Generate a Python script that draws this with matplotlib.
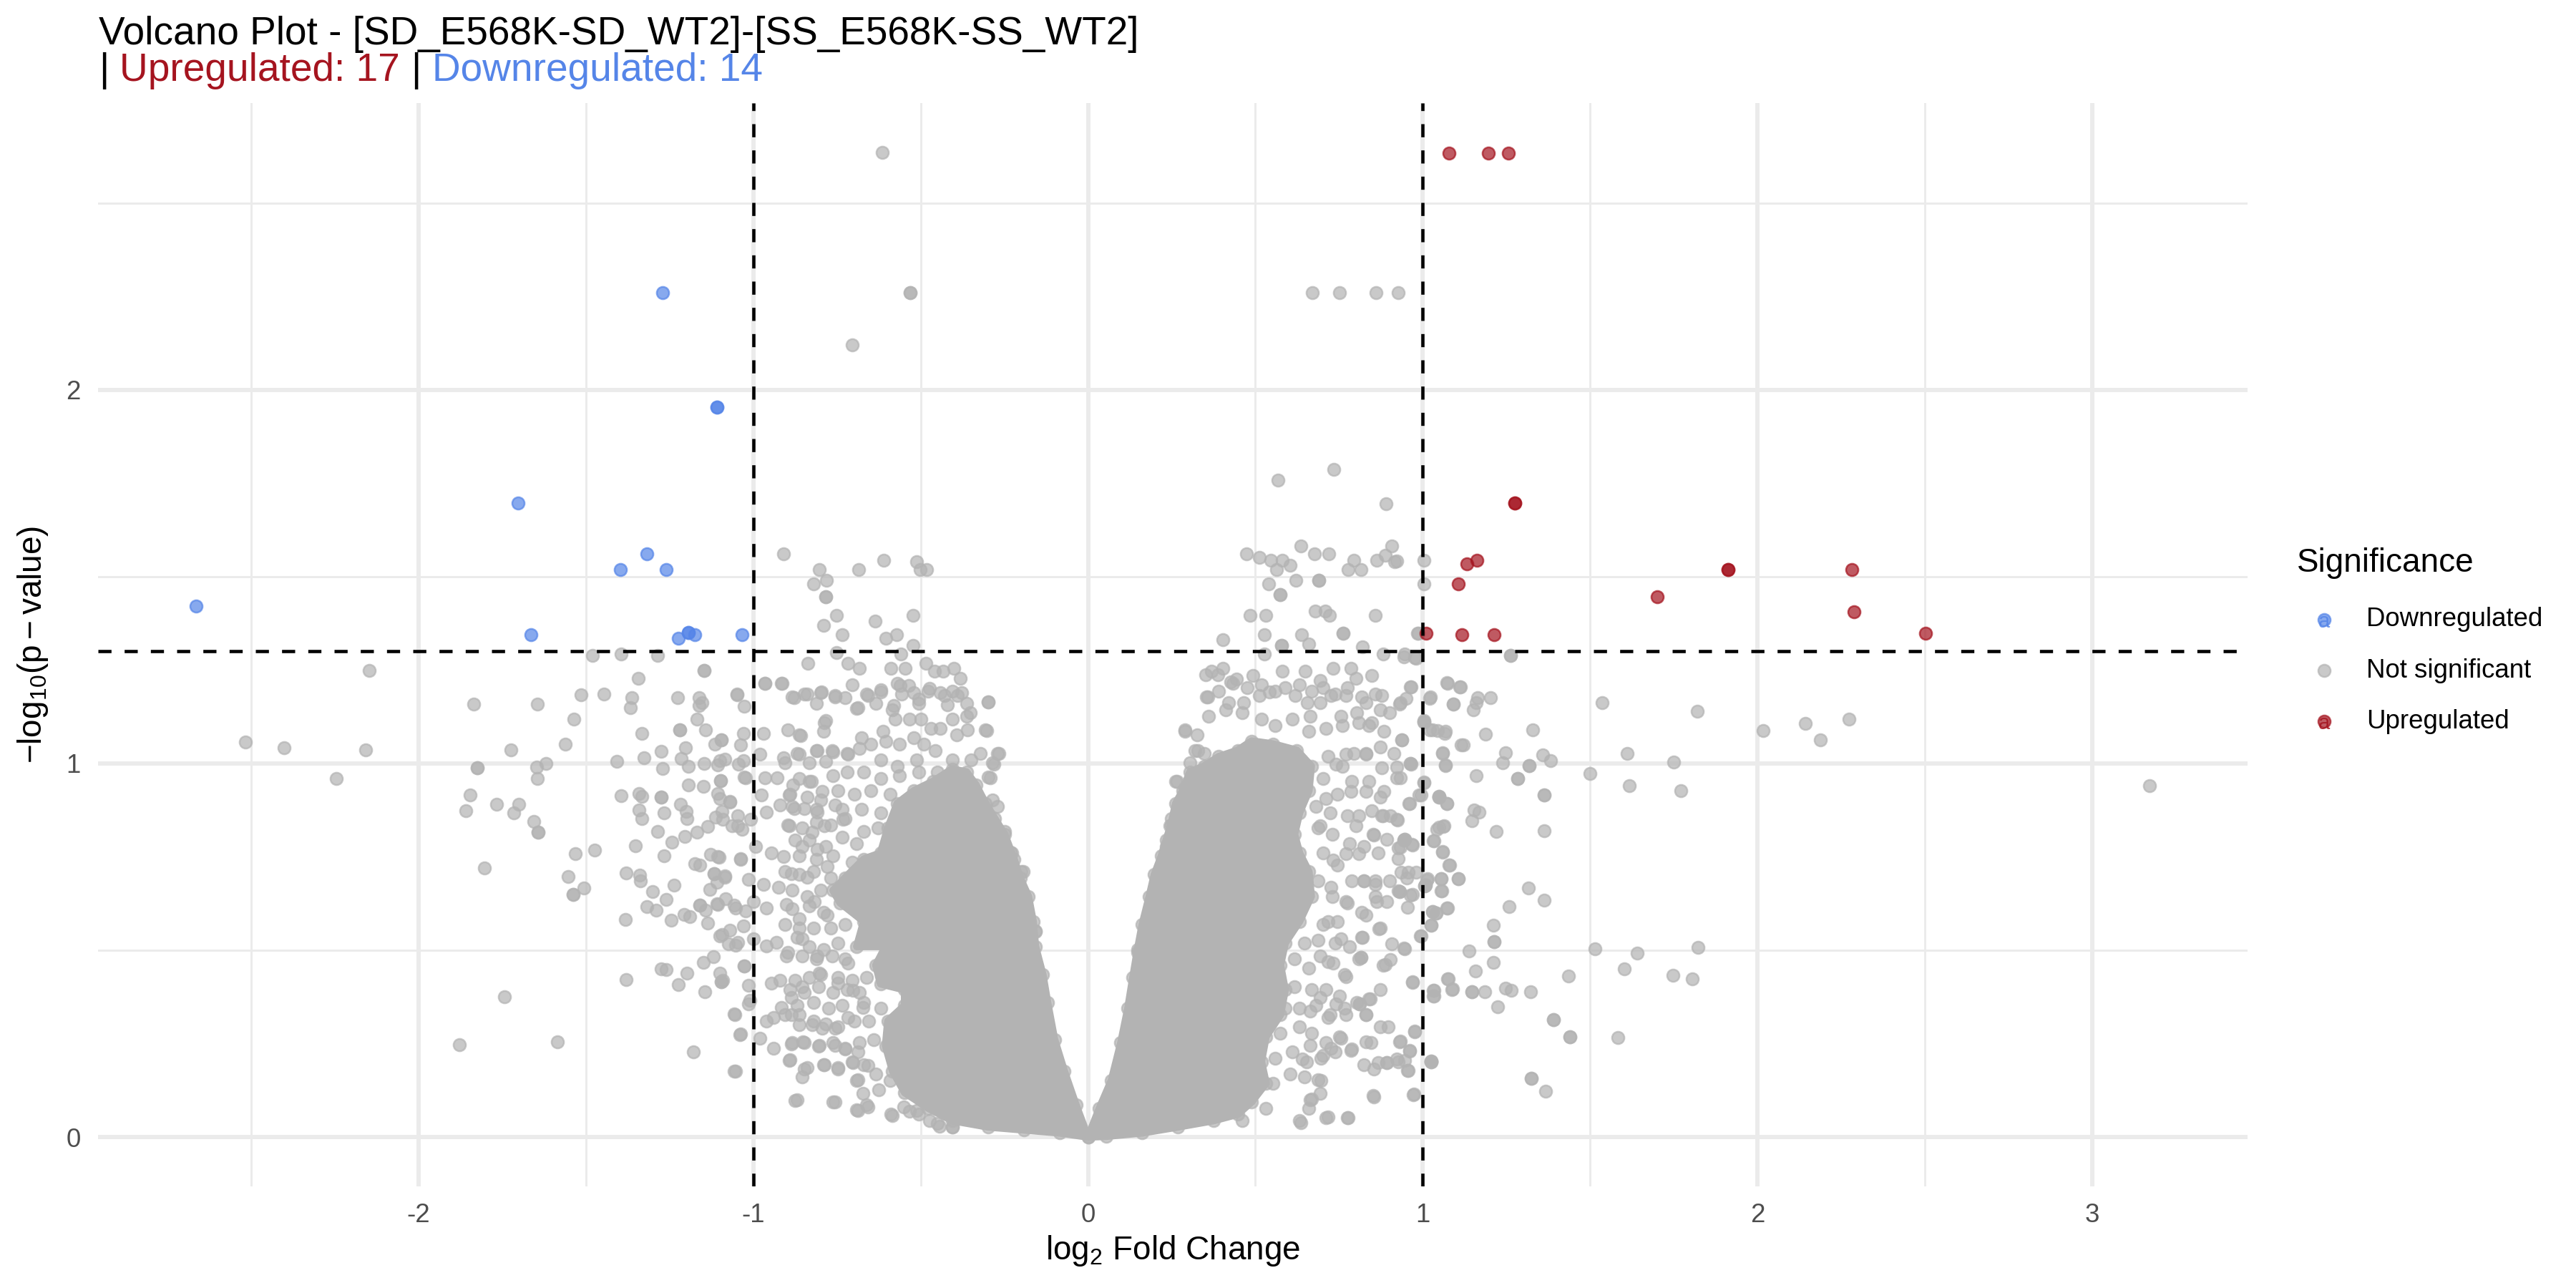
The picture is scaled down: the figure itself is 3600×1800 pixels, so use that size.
import matplotlib
matplotlib.use("Agg")
import matplotlib.pyplot as plt
from matplotlib.patches import Polygon
import numpy as np

plt.rcParams['font.family'] = ['Liberation Sans', 'DejaVu Sans']
plt.rcParams['mathtext.fontset'] = 'custom'
plt.rcParams['mathtext.rm'] = 'Liberation Sans'
plt.rcParams['mathtext.it'] = 'Liberation Sans:italic'
plt.rcParams['axes.unicode_minus'] = False

UP_COL = '#A5141F'
DOWN_COL = '#5585E8'
NS_COL = '#B3B3B3'
GRID_COL = '#EBEBEB'
TXT_GREY = '#4D4D4D'

TITLE = "Volcano Plot - [SD_E568K-SD_WT2]-[SS_E568K-SS_WT2]"
N_UP = 17
N_DOWN = 14
P_CUT = 0.05
FC_CUT = 1.0

# significant genes (log2FC, -log10 p)
down_x = [-2.665, -1.703, -1.272, -1.108, -1.108, -1.664, -1.398, -1.319, -1.260,
          -1.223, -1.195, -1.195, -1.174, -1.033]
down_y = [1.422, 1.696, 2.259, 1.954, 1.954, 1.344, 1.519, 1.561, 1.519,
          1.334, 1.350, 1.350, 1.344, 1.344]

up_x = [1.079, 1.197, 1.255, 1.275, 1.275, 1.133, 1.161, 1.107, 1.913, 1.913,
        2.283, 1.700, 2.288, 2.502, 1.010, 1.118, 1.213]
up_y = [2.633, 2.633, 2.633, 1.696, 1.696, 1.535, 1.544, 1.480, 1.519, 1.519,
        1.519, 1.446, 1.406, 1.349, 1.349, 1.345, 1.345]

# not significant, sparse points left of -1
ns_far_left = [
    (-2.518, 1.057), (-2.402, 1.041), (-2.159, 1.036), (-2.245, 0.960), (-2.148, 1.249),
    (-1.835, 1.158), (-1.646, 1.158), (-1.515, 1.184), (-1.446, 1.186), (-1.362, 1.176),
    (-1.367, 1.149), (-1.226, 1.175), (-1.161, 1.176), (-1.153, 1.163), (-1.161, 1.154),
    (-1.049, 1.184), (-1.537, 1.118), (-1.333, 1.081), (-1.220, 1.089), (-1.220, 1.089),
    (-1.142, 1.089), (-1.168, 1.118), (-1.724, 1.036), (-1.561, 1.052), (-1.408, 1.006),
    (-1.327, 1.015), (-1.275, 1.033), (-1.202, 1.041), (-1.115, 1.052), (-1.095, 1.062),
    (-1.824, 0.988), (-1.824, 0.988), (-1.648, 0.990), (-1.619, 0.999), (-1.646, 0.959),
    (-1.272, 0.987), (-1.215, 1.014), (-1.193, 0.993), (-1.146, 0.999), (-1.107, 0.995),
    (-1.085, 1.011), (-1.045, 0.997), (-1.037, 1.050), (-1.027, 0.963), (-1.846, 0.915),
    (-1.858, 0.873), (-1.767, 0.890), (-1.700, 0.890), (-1.716, 0.868), (-1.656, 0.845),
    (-1.642, 0.816), (-1.642, 0.816), (-1.396, 0.914), (-1.342, 0.919), (-1.333, 0.911),
    (-1.275, 0.909), (-1.275, 0.909), (-1.217, 0.890), (-1.195, 0.943), (-1.150, 0.939),
    (-1.098, 0.953), (-1.098, 0.953), (-1.107, 0.919), (-1.070, 0.899), (-1.342, 0.875),
    (-1.333, 0.852), (-1.266, 0.868), (-1.201, 0.872), (-1.199, 0.852), (-1.287, 0.818),
    (-1.244, 0.790), (-1.205, 0.804), (-1.168, 0.816), (-1.137, 0.832), (-1.113, 0.856),
    (-1.094, 0.872), (-1.047, 0.860), (-1.064, 0.834), (-1.033, 0.824), (-1.352, 0.780),
    (-1.266, 0.752), (-1.474, 0.768), (-1.531, 0.759), (-1.803, 0.720), (-1.554, 0.698),
    (-1.506, 0.666), (-1.538, 0.649), (-1.538, 0.649), (-1.379, 0.707), (-1.339, 0.701),
    (-1.338, 0.685), (-1.237, 0.675), (-1.300, 0.657), (-1.261, 0.635), (-1.319, 0.617),
    (-1.291, 0.607), (-1.382, 0.583), (-1.245, 0.580), (-1.207, 0.596), (-1.189, 0.589),
    (-1.174, 0.732), (-1.159, 0.728), (-1.127, 0.756), (-1.103, 0.748), (-1.039, 0.743),
    (-1.118, 0.705), (-1.118, 0.705), (-1.085, 0.699), (-1.109, 0.682), (-1.129, 0.662),
    (-1.159, 0.621), (-1.159, 0.621), (-1.143, 0.607), (-1.109, 0.625), (-1.082, 0.637),
    (-1.058, 0.621), (-1.137, 0.572), (-1.094, 0.542), (-1.070, 0.554), (-1.074, 0.518),
    (-1.052, 0.514), (-1.023, 0.605), (-1.029, 0.565), (-1.150, 0.468), (-1.119, 0.482),
    (-1.276, 0.450), (-1.260, 0.448), (-1.381, 0.421), (-1.199, 0.438), (-1.223, 0.408),
    (-1.101, 0.438), (-1.095, 0.416), (-1.095, 0.416), (-1.144, 0.388), (-1.027, 0.457),
    (-1.015, 0.406), (-1.015, 0.357), (-1.057, 0.330), (-1.039, 0.275), (-1.178, 0.228),
    (-1.057, 0.176), (-1.744, 0.375), (-1.879, 0.247), (-1.585, 0.255), (-1.480, 1.288),
    (-1.395, 1.293), (-1.287, 1.288), (-1.146, 1.249), (-1.146, 1.249), (-1.344, 1.227),
]

# not significant, between -1.1 and the left core
ns_left = [
    (-0.615, 2.635), (-0.531, 2.260), (-0.531, 2.260), (-0.704, 2.121), (-0.910, 1.561),
    (-0.802, 1.519), (-0.819, 1.480), (-0.781, 1.490), (-0.784, 1.446), (-0.784, 1.446),
    (-0.685, 1.519), (-0.611, 1.543), (-0.512, 1.539), (-0.501, 1.519), (-0.483, 1.519),
    (-0.751, 1.396), (-0.790, 1.369), (-0.735, 1.345), (-0.636, 1.380), (-0.605, 1.334),
    (-0.571, 1.345), (-0.523, 1.396), (-0.523, 1.315), (-0.752, 1.297), (-0.838, 1.268),
    (-0.718, 1.268), (-0.684, 1.255), (-0.588, 1.255), (-0.546, 1.255), (-0.559, 1.292),
    (-0.485, 1.268), (-0.459, 1.246), (-0.433, 1.246), (-0.400, 1.255), (-0.381, 1.227),
    (-0.965, 1.215), (-0.914, 1.215), (-0.965, 1.214), (-0.917, 1.214), (-0.299, 1.165),
    (-0.303, 1.088), (-0.266, 1.027), (-0.281, 0.998), (-0.291, 0.961), (-0.194, 0.710),
    (-0.157, 0.550), (-0.231, 0.763), (-1.048, 1.185), (-1.027, 1.152), (-0.878, 1.176),
    (-0.848, 1.185), (-0.796, 1.191), (-0.756, 1.182), (-0.725, 1.176), (-0.687, 1.149),
    (-0.657, 1.182), (-0.619, 1.191), (-0.581, 1.154), (-0.562, 1.209), (-0.535, 1.209),
    (-0.505, 1.172), (-0.474, 1.200), (-0.428, 1.182), (-0.390, 1.182), (-0.352, 1.136),
    (-0.360, 1.090), (-1.095, 1.062), (-1.030, 1.081), (-0.970, 1.081), (-0.897, 1.090),
    (-0.859, 1.075), (-0.787, 1.108), (-1.099, 1.007), (-1.030, 1.007), (-0.981, 1.025),
    (-0.909, 1.016), (-0.863, 1.025), (-0.809, 1.035), (-0.764, 1.035), (-0.718, 1.025),
    (-1.023, 0.961), (-0.966, 0.961), (-0.928, 0.961), (-0.882, 0.943), (-0.832, 0.952),
    (-0.794, 0.925), (-1.099, 0.906), (-1.069, 0.897), (-0.977, 0.915), (-0.893, 0.915),
    (-0.847, 0.879), (-0.809, 0.870), (-1.092, 0.851), (-1.046, 0.833), (-1.008, 0.851),
    (-0.962, 0.870), (-0.920, 0.888), (-0.878, 0.879), (-0.893, 0.833), (-0.825, 0.815),
    (-0.787, 0.833), (-0.756, 0.888), (-0.733, 0.851), (-1.107, 0.750), (-1.038, 0.745),
    (-0.992, 0.778), (-0.947, 0.760), (-0.909, 0.750), (-0.855, 0.778), (-0.809, 0.769),
    (-1.084, 0.695), (-1.015, 0.690), (-0.970, 0.677), (-0.924, 0.668), (-0.886, 0.704),
    (-0.840, 0.695), (-0.779, 0.723), (-1.107, 0.622), (-1.053, 0.613), (-1.000, 0.631),
    (-0.962, 0.613), (-0.901, 0.622), (-0.863, 0.585), (-0.817, 0.631), (-0.779, 0.594),
    (-1.099, 0.539), (-1.046, 0.521), (-1.000, 0.530), (-0.962, 0.512), (-0.932, 0.521),
    (-0.901, 0.484), (-0.855, 0.530), (-0.809, 0.484), (-0.764, 0.484), (-0.718, 0.466),
    (-1.092, 0.420), (-1.027, 0.457), (-1.011, 0.365), (-0.947, 0.411), (-0.920, 0.420),
    (-0.886, 0.374), (-0.855, 0.402), (-0.802, 0.438), (-0.748, 0.411), (-0.703, 0.393),
    (-1.055, 0.328), (-1.040, 0.273), (-0.981, 0.264), (-0.962, 0.310), (-0.939, 0.319),
    (-0.916, 0.347), (-0.886, 0.328), (-0.863, 0.301), (-0.825, 0.301), (-0.794, 0.292),
    (-0.756, 0.292), (-0.718, 0.319), (-0.672, 0.347), (-0.939, 0.237), (-0.886, 0.249),
    (-0.851, 0.255), (-0.802, 0.246), (-0.756, 0.246), (-0.725, 0.237), (-0.687, 0.227),
    (-1.053, 0.176), (-0.893, 0.205), (-0.847, 0.182), (-0.787, 0.194), (-0.748, 0.182),
    (-0.703, 0.200), (-0.687, 0.154), (-0.657, 0.191), (-0.870, 0.099), (-0.756, 0.093),
    (-0.687, 0.071), (-0.657, 0.080), (-0.672, 0.117), (-0.626, 0.126), (-0.588, 0.062),
    (-0.550, 0.080), (-0.512, 0.071), (-0.474, 0.044), (-0.443, 0.029), (-0.405, 0.026),
]

# not significant, crowded fringe round the left core
ns_left_fringe = [
    (-0.883, 1.177), (-0.840, 1.185), (-0.798, 1.189), (-0.755, 1.177), (-0.705, 1.210),
    (-0.662, 1.185), (-0.620, 1.197), (-0.570, 1.214), (-0.556, 1.185), (-0.520, 1.189),
    (-0.477, 1.193), (-0.442, 1.189), (-0.406, 1.193), (-0.377, 1.189), (-0.299, 1.164),
    (-0.812, 1.160), (-0.634, 1.160), (-0.691, 1.147), (-0.584, 1.143), (-0.506, 1.160),
    (-0.420, 1.156), (-0.363, 1.160), (-0.783, 1.114), (-0.862, 1.077), (-0.791, 1.085),
    (-0.677, 1.068), (-0.613, 1.085), (-0.577, 1.118), (-0.534, 1.118), (-0.499, 1.118),
    (-0.470, 1.093), (-0.442, 1.093), (-0.406, 1.118), (-0.363, 1.127), (-0.306, 1.089),
    (-0.392, 1.077), (-0.520, 1.068), (-0.869, 1.027), (-0.812, 1.035), (-0.762, 1.031),
    (-0.719, 1.027), (-0.684, 1.039), (-0.648, 1.052), (-0.605, 1.060), (-0.563, 1.052),
    (-0.491, 1.052), (-0.456, 1.035), (-0.406, 1.010), (-0.349, 1.010), (-0.321, 1.027),
    (-0.271, 1.027), (-0.285, 1.002), (-0.905, 1.002), (-0.833, 1.002), (-0.783, 1.006),
    (-0.620, 1.010), (-0.570, 0.993), (-0.513, 1.010), (-0.862, 0.960), (-0.826, 0.952),
    (-0.762, 0.968), (-0.719, 0.977), (-0.670, 0.977), (-0.620, 0.960), (-0.563, 0.968),
    (-0.506, 0.977), (-0.449, 0.977), (-0.392, 0.968), (-0.299, 0.964), (-0.890, 0.918),
    (-0.840, 0.910), (-0.798, 0.902), (-0.748, 0.927), (-0.698, 0.918), (-0.648, 0.927),
    (-0.591, 0.918), (-0.883, 0.885), (-0.812, 0.877), (-0.734, 0.877), (-0.677, 0.877),
    (-0.620, 0.868), (-0.285, 0.902), (-0.271, 0.885), (-0.897, 0.835), (-0.855, 0.827),
    (-0.812, 0.843), (-0.769, 0.835), (-0.726, 0.852), (-0.670, 0.818), (-0.627, 0.827),
    (-0.876, 0.794), (-0.833, 0.794), (-0.783, 0.777), (-0.734, 0.802), (-0.691, 0.785),
    (-0.862, 0.752), (-0.812, 0.744), (-0.762, 0.752), (-0.705, 0.735), (-0.249, 0.818),
    (-0.228, 0.760), (-0.905, 0.710), (-0.862, 0.702), (-0.819, 0.710), (-0.769, 0.694),
    (-0.883, 0.660), (-0.840, 0.644), (-0.798, 0.660), (-0.883, 0.610), (-0.833, 0.619),
    (-0.791, 0.602), (-0.199, 0.710), (-0.192, 0.644), (-0.905, 0.569), (-0.862, 0.560),
    (-0.819, 0.560), (-0.769, 0.560), (-0.726, 0.569), (-0.869, 0.535), (-0.833, 0.510),
    (-0.791, 0.502), (-0.748, 0.519), (-0.897, 0.494), (-0.855, 0.485), (-0.812, 0.477),
    (-0.726, 0.477), (-0.157, 0.552), (-0.876, 0.419), (-0.833, 0.427), (-0.798, 0.435),
    (-0.748, 0.427), (-0.705, 0.419), (-0.662, 0.427), (-0.890, 0.394), (-0.848, 0.386),
    (-0.805, 0.402), (-0.762, 0.386), (-0.719, 0.394), (-0.684, 0.386), (-0.869, 0.352),
    (-0.819, 0.361), (-0.776, 0.344), (-0.734, 0.352), (-0.670, 0.361), (-0.620, 0.344),
    (-0.905, 0.327), (-0.862, 0.327), (-0.819, 0.311), (-0.783, 0.302), (-0.748, 0.294),
    (-0.698, 0.311), (-0.655, 0.311), (-0.883, 0.252), (-0.848, 0.252), (-0.805, 0.244),
    (-0.762, 0.252), (-0.726, 0.236), (-0.684, 0.252), (-0.641, 0.261), (-0.890, 0.206),
    (-0.840, 0.186), (-0.791, 0.194), (-0.748, 0.186), (-0.705, 0.202), (-0.670, 0.194),
    (-0.634, 0.169), (-0.855, 0.161), (-0.691, 0.152), (-0.591, 0.152), (-0.876, 0.098),
    (-0.762, 0.094), (-0.691, 0.073), (-0.662, 0.086), (-0.584, 0.057), (-0.534, 0.069),
    (-0.506, 0.061), (-0.449, 0.036), (-0.406, 0.027),
]

# not significant, right of the right core
ns_right = [
    (0.670, 2.260), (0.751, 2.260), (0.861, 2.260), (0.926, 2.260), (0.567, 1.758),
    (0.734, 1.787), (0.891, 1.695), (0.473, 1.561), (0.513, 1.552), (0.546, 1.543),
    (0.563, 1.519), (0.580, 1.543), (0.603, 1.530), (0.635, 1.581), (0.676, 1.561),
    (0.719, 1.561), (0.539, 1.480), (0.575, 1.451), (0.575, 1.451), (0.622, 1.490),
    (0.689, 1.490), (0.689, 1.490), (0.777, 1.519), (0.795, 1.543), (0.816, 1.519),
    (0.863, 1.543), (0.889, 1.558), (0.908, 1.581), (0.917, 1.539), (1.003, 1.543),
    (1.003, 1.480), (0.922, 1.541), (0.484, 1.396), (0.532, 1.396), (0.528, 1.345),
    (0.578, 1.315), (0.578, 1.315), (0.638, 1.345), (0.660, 1.319), (0.679, 1.407),
    (0.709, 1.407), (0.721, 1.396), (0.763, 1.348), (0.763, 1.348), (0.859, 1.396),
    (0.820, 1.312), (0.984, 1.348), (0.987, 1.349), (0.402, 1.332), (0.368, 1.246),
    (0.404, 1.255), (0.443, 1.226), (0.492, 1.235), (0.526, 1.292), (0.580, 1.246),
    (0.648, 1.246), (0.694, 1.222), (0.732, 1.255), (0.786, 1.255), (0.801, 1.227),
    (0.847, 1.235), (0.881, 1.292), (0.946, 1.292), (0.980, 1.282), (0.965, 1.204),
    (0.934, 1.163), (1.022, 1.178), (1.075, 1.214), (1.091, 1.159), (1.110, 1.204),
    (1.003, 1.114), (1.030, 1.090), (1.068, 1.086), (0.937, 1.062), (1.060, 1.027),
    (1.068, 0.994), (1.114, 1.049), (0.965, 0.998), (1.003, 0.948), (0.988, 0.915),
    (1.049, 0.912), (1.049, 0.912), (1.072, 0.893), (0.959, 0.893), (0.923, 0.961),
    (0.877, 0.989), (0.831, 1.025), (0.885, 0.925), (0.847, 0.873), (0.877, 0.860),
    (0.904, 0.860), (0.923, 0.851), (0.831, 0.925), (0.801, 0.833), (0.854, 0.809),
    (0.892, 0.796), (0.946, 0.796), (0.946, 0.796), (0.969, 0.782), (0.927, 0.774),
    (1.033, 0.793), (1.049, 0.829), (1.064, 0.833), (1.060, 0.763), (1.079, 0.728),
    (1.106, 0.692), (1.056, 0.692), (1.056, 0.659), (1.005, 0.673), (1.005, 0.673),
    (1.014, 0.692), (0.957, 0.708), (0.969, 0.649), (0.927, 0.659), (0.900, 0.686),
    (0.858, 0.686), (0.824, 0.686), (0.862, 0.631), (0.892, 0.631), (0.831, 0.594),
    (0.870, 0.558), (1.030, 0.603), (1.030, 0.603), (1.026, 0.567), (1.075, 0.613),
    (0.995, 0.539), (0.946, 0.503), (0.908, 0.517), (0.889, 0.462), (0.904, 0.475),
    (0.816, 0.480), (0.816, 0.480), (0.820, 0.534), (0.969, 0.414), (1.033, 0.392),
    (1.033, 0.378), (1.075, 0.424), (1.089, 0.396), (0.843, 0.370), (0.812, 0.356),
    (0.812, 0.356), (0.831, 0.328), (0.896, 0.295), (0.976, 0.282), (0.931, 0.255),
    (0.961, 0.231), (0.946, 0.205), (0.923, 0.209), (0.893, 0.200), (0.893, 0.200),
    (0.866, 0.200), (0.855, 0.182), (1.026, 0.203), (1.026, 0.203), (0.956, 0.178),
    (0.973, 0.114), (0.855, 0.108), (0.778, 0.051), (0.717, 0.053), (0.637, 0.038),
    (0.831, 0.255), (0.786, 0.231), (0.755, 0.264), (0.725, 0.237), (0.702, 0.218),
    (0.664, 0.246), (0.641, 0.209), (0.687, 0.154), (0.664, 0.099), (0.694, 0.117),
    (0.770, 0.328), (0.740, 0.356), (0.717, 0.319), (0.694, 0.374), (0.664, 0.338),
    (0.770, 0.429), (0.732, 0.466), (0.694, 0.484), (0.755, 0.530), (0.717, 0.576),
    (0.770, 0.631), (0.725, 0.668), (0.770, 0.759), (0.732, 0.741), (0.809, 0.759),
    (0.786, 0.925), (0.740, 0.998), (0.770, 1.025), (0.809, 1.108), (0.755, 1.126),
    (0.725, 1.181), (0.694, 1.163), (0.664, 1.126), (0.770, 1.181), (0.831, 1.163),
    (0.877, 1.181), (0.900, 1.136), (0.847, 1.108), (0.885, 1.086), (0.710, 0.906),
    (0.694, 0.833), (0.290, 1.086), (0.328, 1.035), (0.267, 0.952), (0.298, 0.930),
    (0.298, 0.930), (0.244, 0.833), (0.237, 0.778), (0.351, 1.237), (0.389, 1.237),
    (0.427, 1.218), (0.359, 1.178), (0.420, 1.163), (0.465, 1.163), (0.511, 1.181),
    (0.542, 1.191), (0.618, 1.181), (0.656, 1.163),
]

# not significant, crowded fringe round the right core
ns_right_fringe = [
    (0.354, 1.177), (0.390, 1.193), (0.432, 1.214), (0.475, 1.202), (0.518, 1.210),
    (0.560, 1.193), (0.589, 1.202), (0.632, 1.210), (0.667, 1.193), (0.703, 1.202),
    (0.738, 1.185), (0.774, 1.202), (0.817, 1.177), (0.859, 1.185), (0.290, 1.089),
    (0.326, 1.077), (0.361, 1.127), (0.411, 1.143), (0.461, 1.135), (0.518, 1.118),
    (0.560, 1.102), (0.610, 1.118), (0.660, 1.085), (0.710, 1.093), (0.760, 1.102),
    (0.802, 1.135), (0.838, 1.102), (0.873, 1.143), (0.319, 1.035), (0.304, 1.002),
    (0.262, 0.952), (0.290, 0.935), (0.347, 1.027), (0.717, 1.018), (0.760, 0.993),
    (0.795, 1.027), (0.831, 1.027), (0.873, 1.043), (0.703, 0.960), (0.745, 0.918),
    (0.788, 0.952), (0.838, 0.952), (0.873, 0.910), (0.276, 0.893), (0.248, 0.852),
    (0.233, 0.777), (0.681, 0.885), (0.724, 0.868), (0.774, 0.860), (0.809, 0.860),
    (0.852, 0.810), (0.881, 0.860), (0.688, 0.827), (0.731, 0.810), (0.781, 0.785),
    (0.824, 0.777), (0.866, 0.760), (0.212, 0.702), (0.198, 0.652), (0.703, 0.760),
    (0.745, 0.727), (0.788, 0.685), (0.824, 0.685), (0.859, 0.677), (0.688, 0.685),
    (0.731, 0.644), (0.774, 0.627), (0.817, 0.602), (0.859, 0.644), (0.183, 0.577),
    (0.703, 0.569), (0.745, 0.577), (0.817, 0.535), (0.873, 0.560), (0.646, 0.519),
    (0.688, 0.527), (0.738, 0.519), (0.781, 0.510), (0.809, 0.477), (0.148, 0.494),
    (0.617, 0.477), (0.660, 0.452), (0.717, 0.469), (0.767, 0.435), (0.881, 0.460),
    (0.141, 0.402), (0.617, 0.402), (0.667, 0.394), (0.710, 0.394), (0.752, 0.377),
    (0.838, 0.369), (0.873, 0.394), (0.589, 0.344), (0.632, 0.344), (0.681, 0.352),
    (0.724, 0.327), (0.767, 0.344), (0.802, 0.361), (0.831, 0.327), (0.575, 0.277),
    (0.632, 0.294), (0.667, 0.277), (0.710, 0.252), (0.752, 0.269), (0.788, 0.236),
    (0.845, 0.252), (0.873, 0.294), (0.560, 0.211), (0.610, 0.227), (0.653, 0.202),
    (0.696, 0.211), (0.738, 0.227), (0.824, 0.194), (0.553, 0.144), (0.603, 0.169),
    (0.646, 0.161), (0.696, 0.152), (0.667, 0.102), (0.660, 0.077), (0.632, 0.044),
    (0.710, 0.052), (0.774, 0.052), (0.852, 0.111), (0.461, 0.044), (0.532, 0.077),
]

# not significant, far right (beyond 0.9)
ns_far_right = [
    (0.943, 1.286), (0.976, 1.283), (1.262, 1.289), (1.262, 1.289), (1.073, 1.216),
    (1.113, 1.204), (0.963, 1.204), (0.950, 1.174), (0.930, 1.158), (1.021, 1.174),
    (1.091, 1.159), (1.164, 1.176), (1.203, 1.176), (1.160, 1.163), (1.152, 1.144),
    (1.535, 1.163), (1.821, 1.140), (2.018, 1.087), (2.143, 1.107), (2.187, 1.063),
    (2.273, 1.118), (1.004, 1.110), (1.004, 1.110), (1.021, 1.090), (1.045, 1.087),
    (1.065, 1.080), (0.937, 1.063), (1.122, 1.049), (1.187, 1.078), (1.328, 1.089),
    (0.914, 1.026), (1.060, 1.028), (1.247, 1.028), (1.359, 1.023), (1.381, 1.008),
    (1.611, 1.027), (1.750, 1.003), (0.963, 1.000), (0.963, 1.000), (1.067, 0.996),
    (1.239, 1.002), (1.318, 0.994), (1.318, 0.994), (0.922, 0.991), (1.160, 0.968),
    (1.283, 0.959), (1.283, 0.959), (0.934, 0.961), (1.500, 0.973), (1.617, 0.941),
    (1.772, 0.927), (3.172, 0.941), (1.004, 0.950), (0.996, 0.915), (1.049, 0.909),
    (1.049, 0.909), (1.072, 0.893), (1.362, 0.915), (1.362, 0.915), (0.960, 0.893),
    (1.154, 0.876), (1.168, 0.870), (1.147, 0.846), (0.925, 0.849), (1.042, 0.824),
    (1.062, 0.831), (1.219, 0.817), (1.362, 0.820), (0.943, 0.794), (0.943, 0.794),
    (1.032, 0.792), (0.968, 0.783), (0.934, 0.776), (1.060, 0.765), (0.927, 0.745),
    (1.080, 0.728), (0.935, 0.709), (0.980, 0.709), (0.953, 0.693), (1.012, 0.688),
    (1.055, 0.692), (1.106, 0.692), (1.009, 0.674), (1.009, 0.674), (1.058, 0.659),
    (0.930, 0.656), (0.930, 0.656), (0.963, 0.647), (1.315, 0.666), (1.362, 0.633),
    (1.259, 0.617), (0.955, 0.615), (1.073, 0.613), (1.040, 0.599), (1.040, 0.599),
    (1.024, 0.566), (1.210, 0.566), (0.994, 0.539), (1.213, 0.523), (1.213, 0.523),
    (0.943, 0.505), (1.139, 0.498), (1.514, 0.503), (1.640, 0.493), (1.823, 0.507),
    (1.210, 0.468), (1.157, 0.445), (1.602, 0.450), (1.436, 0.430), (1.747, 0.432),
    (1.805, 0.424), (0.970, 0.416), (1.076, 0.423), (1.032, 0.393), (1.032, 0.378),
    (1.088, 0.395), (1.147, 0.388), (1.147, 0.388), (1.185, 0.389), (1.247, 0.398),
    (1.264, 0.393), (1.323, 0.388), (1.223, 0.349), (1.390, 0.314), (1.390, 0.314),
    (1.440, 0.269), (1.440, 0.269), (1.583, 0.266), (0.975, 0.283), (0.934, 0.256),
    (0.961, 0.229), (0.927, 0.202), (1.026, 0.201), (1.026, 0.201), (0.955, 0.178),
    (1.325, 0.158), (1.325, 0.158), (1.367, 0.123), (0.971, 0.113),
]

# outline of the saturated cores, where thousands of points overlap
left_core_x = [0.000, -0.036, -0.071, -0.100, -0.121, -0.135, -0.157, -0.164, -0.178,
               -0.203, -0.221, -0.249, -0.278, -0.306, -0.335, -0.363, -0.406, -0.463,
               -0.520, -0.570, -0.598, -0.620, -0.670, -0.726, -0.762, -0.741, -0.670,
               -0.691, -0.605, -0.634, -0.620, -0.548, -0.548, -0.598, -0.605, -0.584,
               -0.548, -0.477, -0.406, -0.299, -0.192, -0.085]
left_core_y = [0.000, 0.086, 0.177, 0.261, 0.361, 0.435, 0.510, 0.577, 0.644,
               0.694, 0.744, 0.810, 0.852, 0.893, 0.943, 0.977, 0.985, 0.952,
               0.927, 0.893, 0.827, 0.760, 0.744, 0.694, 0.660, 0.627, 0.577,
               0.510, 0.510, 0.460, 0.410, 0.394, 0.352, 0.311, 0.244, 0.177,
               0.119, 0.077, 0.044, 0.027, 0.019, 0.011]
right_core_x = [0.000, 0.034, 0.070, 0.098, 0.119, 0.134, 0.148, 0.162, 0.183,
                0.198, 0.219, 0.233, 0.248, 0.262, 0.283, 0.304, 0.347, 0.390,
                0.447, 0.489, 0.553, 0.624, 0.667, 0.660, 0.632, 0.617, 0.632,
                0.660, 0.667, 0.632, 0.589, 0.575, 0.589, 0.575, 0.532, 0.518,
                0.532, 0.489, 0.447, 0.376, 0.269, 0.162, 0.055]
right_core_y = [0.000, 0.077, 0.152, 0.252, 0.344, 0.427, 0.502, 0.569, 0.644,
                0.702, 0.752, 0.794, 0.835, 0.893, 0.927, 0.977, 0.993, 1.018,
                1.035, 1.060, 1.052, 1.035, 0.993, 0.927, 0.868, 0.810, 0.760,
                0.710, 0.644, 0.577, 0.519, 0.460, 0.394, 0.327, 0.269, 0.202,
                0.144, 0.094, 0.061, 0.044, 0.027, 0.011, 0.002]

x_major = [-2, -1, 0, 1, 2, 3]
x_minor = [-2.5, -1.5, -0.5, 0.5, 1.5, 2.5]
y_major = [0, 1, 2]
y_minor = [0.5, 1.5, 2.5]

legend_labels = ['Downregulated', 'Not significant', 'Upregulated']
legend_colors = [DOWN_COL, NS_COL, UP_COL]

ns_all = ns_far_left + ns_left + ns_left_fringe + ns_right + ns_right_fringe + ns_far_right
ns_x = [p[0] for p in ns_all] + left_core_x + right_core_x
ns_y = [p[1] for p in ns_all] + left_core_y + right_core_y

fig = plt.figure(figsize=(12, 6), dpi=300)
ax = fig.add_axes([0.03817, 0.0790, 0.83427, 0.8408])

for cx, cy in [(left_core_x, left_core_y), (right_core_x, right_core_y)]:
    ax.add_patch(Polygon(np.column_stack([cx, cy]), closed=True, facecolor=NS_COL,
                         edgecolor=NS_COL, linewidth=2.5, joinstyle='round', zorder=2))

pt = dict(s=17, alpha=0.7, linewidths=0.6, zorder=3)
ax.scatter(ns_x, ns_y, color=NS_COL, edgecolors=NS_COL, **pt)
ax.scatter(down_x, down_y, color=DOWN_COL, edgecolors=DOWN_COL, **pt)
ax.scatter(up_x, up_y, color=UP_COL, edgecolors=UP_COL, **pt)

thr = -np.log10(P_CUT)
ax.axhline(thr, color='black', lw=1.1, ls=(0, (4, 4)), zorder=4)
ax.axvline(-FC_CUT, color='black', lw=1.1, ls=(0, (4, 4)), zorder=4)
ax.axvline(FC_CUT, color='black', lw=1.1, ls=(0, (4, 4)), zorder=4)

all_x = ns_x + down_x + up_x
all_y = ns_y + down_y + up_y
xr = max(all_x) - min(all_x)
yr = max(all_y) - min(all_y)
ax.set_xlim(min(all_x) - 0.05 * xr, max(all_x) + 0.05 * xr)
ax.set_ylim(min(all_y) - 0.05 * yr, max(all_y) + 0.05 * yr)

ax.set_xticks(x_major)
ax.set_xticks(x_minor, minor=True)
ax.set_yticks(y_major)
ax.set_yticks(y_minor, minor=True)
ax.set_xticklabels([str(v) for v in x_major])
ax.set_yticklabels([str(v) for v in y_major])
ax.grid(which='major', color=GRID_COL, lw=1.42, zorder=0)
ax.grid(which='minor', color=GRID_COL, lw=0.71, zorder=0)
ax.set_axisbelow(True)
for s in ax.spines.values():
    s.set_visible(False)
ax.tick_params(which='both', length=0, labelsize=8.8, labelcolor=TXT_GREY)
ax.tick_params(axis='x', pad=5.5)
ax.tick_params(axis='y', pad=6)

# axis titles
fig.text(0.4553, 0.0422, r'$\mathrm{log}_{2}$ Fold Change', ha='center', va='top', fontsize=11)
fig.text(0.0128, 0.4994, r'$-\mathrm{log}_{10}(\mathrm{p}-\mathrm{value})$', ha='center',
         va='center', rotation=90, fontsize=11)

# title, second line coloured piece by piece
X0 = 0.0383
fig.text(X0, 0.9656, TITLE, fontsize=13.2, va='baseline', ha='left')
fig.canvas.draw()
r = fig.canvas.get_renderer()
W = fig.bbox.width


def width_of(s):
    t = fig.text(0, 0, s, fontsize=13.2)
    w = t.get_window_extent(renderer=r).width
    t.remove()
    return w / W


parts = [('|', 'black'), (' Upregulated: %d' % N_UP, UP_COL), (' |', 'black'),
         (' Downregulated: %d' % N_DOWN, DOWN_COL)]
prefix = ''
for s, c in parts:
    body = s.lstrip(' ')
    if prefix:
        off = width_of(prefix + s) - width_of(body)
    else:
        off = 0.0
    fig.text(X0 + off, 0.9372, body, fontsize=13.2, color=c, va='baseline', ha='left')
    prefix += s

# legend
fig.text(0.8917, 0.5628, 'Significance', fontsize=11, va='center', ha='left')
key_y = [0.5189, 0.4794, 0.4400]
for lab, col, ky in zip(legend_labels, legend_colors, key_y):
    ax.scatter([0.9022], [ky], s=17, color=col, edgecolors=col, alpha=0.7, linewidths=0.6,
               transform=fig.transFigure, clip_on=False)
    if col != NS_COL:
        fig.text(0.9022, ky - 0.0015, 'a', fontsize=7, color=col, alpha=0.85,
                 ha='center', va='center')
    fig.text(0.9186, ky, lab, fontsize=8.8, va='center', ha='left')

fig.savefig('out.png', dpi=300)
